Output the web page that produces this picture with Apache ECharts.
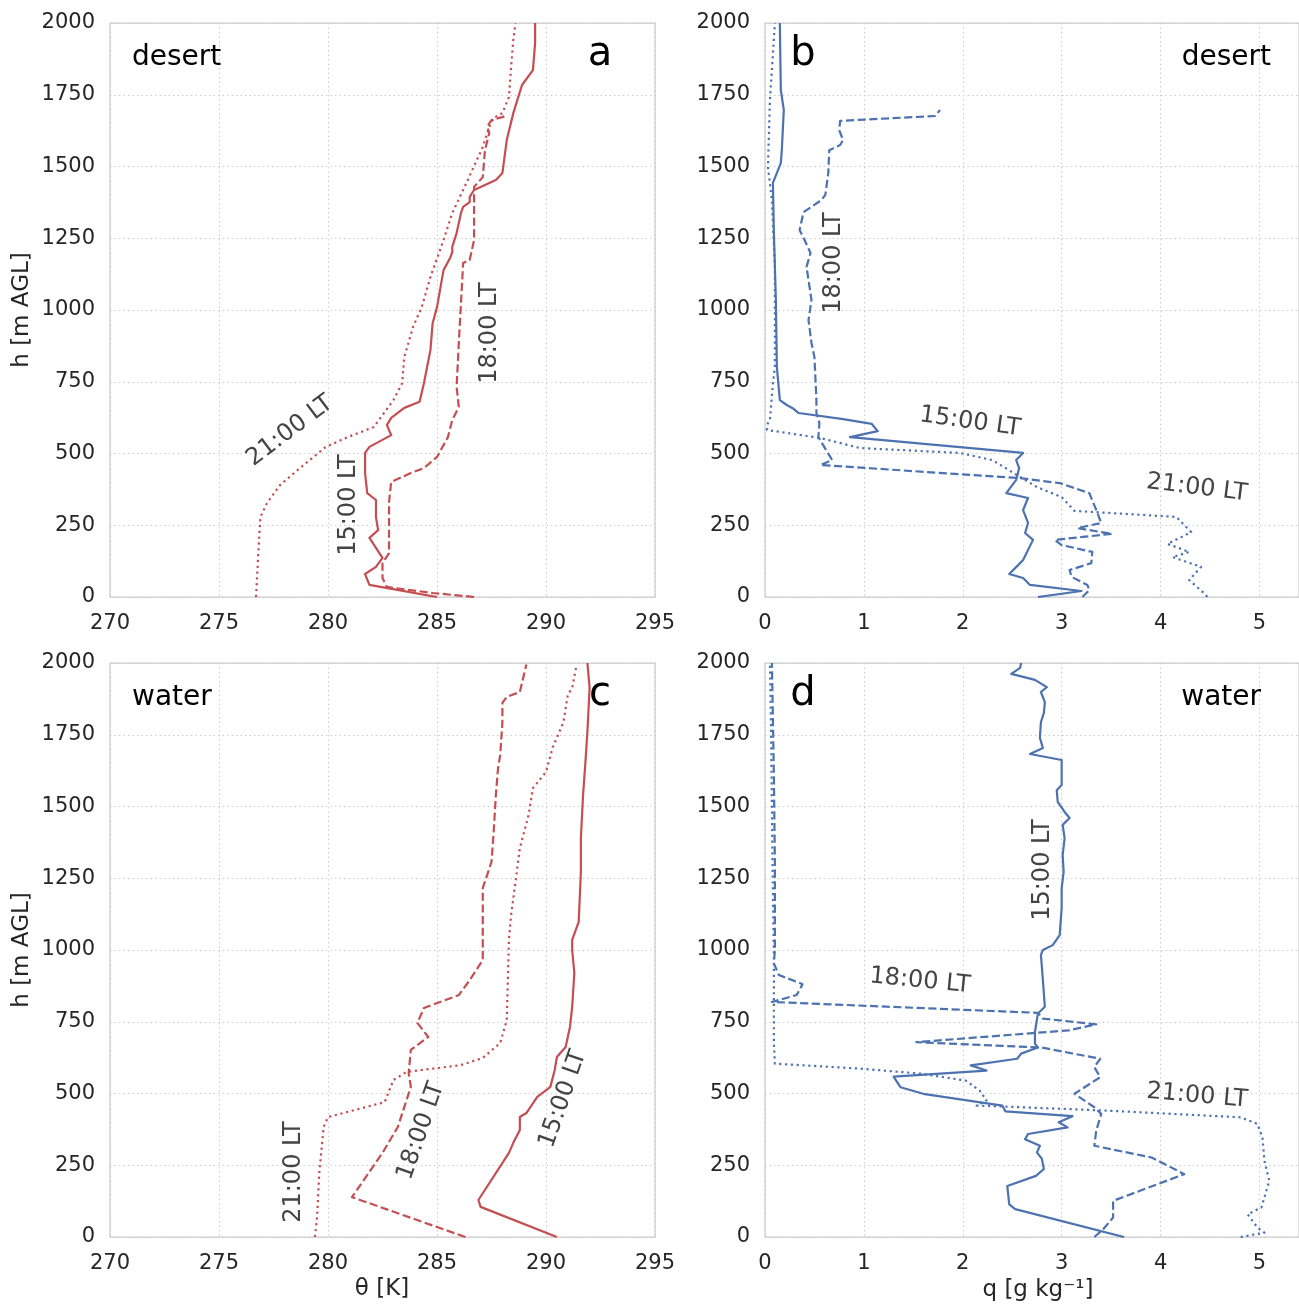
<!DOCTYPE html>
<html><head><meta charset="utf-8">
<script src="https://cdn.jsdelivr.net/npm/echarts@6/dist/echarts.min.js"></script>
<style>html,body{margin:0;padding:0;background:#fff}#c{width:1299px;height:1306px}</style>
</head><body><div id="c"></div>
<script>
// ---------- data: [value, height m AGL] ----------
const heightTicks = [0, 250, 500, 750, 1000, 1250, 1500, 1750, 2000];
const thetaTicks = [270, 275, 280, 285, 290, 295];
const qTicks = [0, 1, 2, 3, 4, 5];

// panel a: desert potential temperature (K)
const desertTheta15 = [[285.0,0],[281.9,42],[281.7,80],[282.2,105],[282.5,136],[281.9,206],[282.3,233],[282.2,279],[282.2,338],[281.8,362],[281.7,432],[281.7,502],[281.9,523],[282.9,564],[282.7,599],[282.9,624],[283.5,659],[284.2,680],[284.4,745],[284.7,861],[284.8,954],[285.0,1010],[285.3,1139],[285.6,1181],[285.7,1202],[285.7,1220],[285.9,1268],[286.1,1338],[286.2,1359],[286.5,1376],[286.5,1394],[286.7,1418],[287.7,1453],[288.0,1477],[288.2,1592],[288.5,1686],[288.9,1784],[289.4,1836],[289.5,1930],[289.5,2000]];
const desertTheta18 = [[286.7,0],[284.8,14],[282.7,35],[282.5,66],[282.5,118],[282.8,153],[282.8,314],[282.8,331],[282.9,401],[283.8,432],[284.4,449],[285.0,488],[285.5,557],[285.7,617],[286.0,662],[285.9,732],[286.0,885],[286.1,1024],[286.2,1164],[286.5,1174],[286.7,1244],[286.7,1394],[286.7,1429],[287.1,1463],[287.2,1557],[287.4,1617],[287.3,1638],[287.5,1662],[288.0,1672],[288.2,1678]];
const desertTheta21 = [[276.7,0],[276.8,150],[276.9,279],[277.2,327],[277.8,390],[278.6,442],[279.9,523],[280.9,557],[282.1,592],[283.0,686],[283.4,745],[283.5,836],[283.9,941],[284.3,1010],[284.7,1115],[285.3,1244],[285.7,1338],[286.2,1418],[287.1,1568],[287.4,1638],[287.6,1669],[288.0,1686],[288.3,1742],[288.4,1847],[288.5,1941],[288.6,2000]];

// panel b: desert specific humidity (g/kg)
const desertQ15 = [[2.76,0],[3.20,21],[2.68,42],[2.61,66],[2.47,80],[2.56,111],[2.61,129],[2.71,199],[2.63,223],[2.66,258],[2.61,303],[2.66,345],[2.44,362],[2.54,408],[2.57,449],[2.54,477],[2.61,502],[0.86,557],[1.14,578],[1.08,603],[0.79,620],[0.34,641],[0.28,658],[0.22,669],[0.15,686],[0.12,801],[0.11,1035],[0.09,1268],[0.08,1443],[0.16,1512],[0.17,1557],[0.19,1697],[0.16,1767],[0.15,2000]];
const desertQ18 = [[3.21,0],[3.28,24],[3.26,42],[3.10,70],[3.08,94],[3.30,118],[3.31,157],[3.00,181],[2.93,199],[3.51,220],[3.16,240],[3.40,258],[3.35,303],[3.28,362],[2.98,397],[2.58,414],[0.56,460],[0.68,477],[0.66,488],[0.54,557],[0.55,606],[0.52,641],[0.52,686],[0.50,836],[0.47,885],[0.44,965],[0.47,1035],[0.42,1150],[0.46,1199],[0.40,1244],[0.35,1279],[0.39,1341],[0.57,1383],[0.61,1401],[0.64,1477],[0.65,1557],[0.76,1575],[0.79,1592],[0.75,1627],[0.76,1659],[1.72,1676],[1.77,1697]];
const desertQ21 = [[4.47,0],[4.46,7],[4.29,59],[4.41,105],[4.12,139],[4.29,157],[4.07,185],[4.31,226],[4.16,279],[3.13,300],[3.00,348],[2.75,383],[2.58,418],[2.30,477],[1.97,502],[0.96,519],[0.56,554],[0.02,582],[0.03,606],[0.05,617],[0.08,745],[0.10,801],[0.10,1150],[0.07,1383],[0.03,1498],[0.05,1732],[0.10,2000]];

// panel c: water potential temperature (K)
const waterTheta15 = [[290.5,0],[287.0,105],[286.9,129],[288.3,293],[288.5,328],[288.8,373],[288.8,418],[289.1,432],[289.6,488],[290.2,523],[290.4,582],[290.5,627],[290.9,662],[291.1,732],[291.2,801],[291.3,920],[291.2,1000],[291.2,1035],[291.5,1098],[291.6,1272],[291.6,1390],[291.7,1540],[291.8,1645],[291.9,1760],[292.0,1913],[291.9,2000]];
const waterTheta18 = [[286.3,0],[281.1,139],[282.5,293],[283.2,383],[283.8,523],[283.7,571],[283.8,652],[284.6,697],[284.1,746],[284.4,798],[286.0,843],[286.5,895],[287.1,965],[287.1,1035],[287.1,1216],[287.3,1261],[287.5,1307],[287.6,1411],[287.7,1540],[287.8,1634],[287.9,1679],[288.0,1794],[288.0,1861],[288.2,1882],[288.8,1899],[289.1,1995]];
const waterTheta21 = [[279.4,0],[279.5,70],[279.6,223],[279.8,383],[280.0,418],[282.6,470],[283.0,547],[283.6,575],[286.1,599],[287.1,624],[287.9,676],[288.2,756],[288.3,1035],[288.4,1122],[288.6,1237],[288.8,1355],[289.2,1470],[289.4,1564],[290.0,1620],[290.3,1704],[290.8,1794],[291.0,1889],[291.2,1913],[291.4,1993]];

// panel d: water specific humidity (g/kg)
const waterQ15 = [[3.63,0],[2.53,97],[2.47,114],[2.45,178],[2.74,213],[2.82,237],[2.80,272],[2.75,295],[2.78,318],[2.63,341],[2.66,359],[3.06,382],[2.97,400],[3.11,421],[2.43,438],[2.40,458],[1.60,499],[1.37,522],[1.30,559],[2.24,580],[2.08,598],[2.55,621],[2.59,639],[2.76,660],[2.73,674],[2.73,715],[2.76,779],[2.83,802],[2.81,895],[2.80,940],[2.79,983],[2.81,1000],[2.91,1017],[2.98,1052],[3.00,1146],[3.00,1216],[3.02,1272],[3.01,1331],[3.03,1390],[3.01,1436],[3.08,1460],[3.03,1481],[2.96,1516],[2.95,1557],[3.00,1575],[3.00,1662],[2.68,1683],[2.81,1704],[2.78,1739],[2.79,1794],[2.82,1826],[2.83,1864],[2.79,1899],[2.85,1916],[2.73,1941],[2.49,1962],[2.58,1983],[2.59,2000]];
const waterQ18 = [[3.33,0],[3.42,27],[3.52,68],[3.52,126],[4.24,219],[3.91,277],[3.33,318],[3.35,371],[3.40,429],[3.33,452],[3.13,499],[3.39,557],[3.33,592],[3.39,621],[2.80,660],[1.53,679],[3.07,720],[3.35,741],[2.81,761],[2.76,781],[0.07,819],[0.32,843],[0.38,881],[0.14,913],[0.09,953],[0.10,1000],[0.10,1300],[0.09,1600],[0.08,1800],[0.07,2000]];
const waterQ21 = [[4.81,0],[5.05,15],[4.98,33],[4.88,79],[5.02,103],[5.10,196],[5.05,266],[5.03,347],[4.98,394],[4.81,417],[3.42,441],[2.14,458],[2.24,476],[2.17,510],[2.03,545],[1.58,569],[0.99,586],[0.10,604],[0.09,674],[0.09,814],[0.09,965],[0.08,1200],[0.07,1500],[0.06,1800],[0.05,2000]];

// ---------- styling ----------
const FONT = 'DejaVu Sans';
const RED = '#c44e52', BLUE = '#4c72b0';
const TICK_COLOR = '#262626', GRID_COLOR = '#cccccc';
const LW = 2.2;
const STYLE15 = 'solid', STYLE18 = [3.7 * LW, 1.6 * LW], STYLE21 = [1 * LW, 1.65 * LW];

const grids = [
  {left: 110, top: 23, width: 545, height: 574},
  {left: 765, top: 23, width: 534, height: 574},
  {left: 110, top: 663, width: 545, height: 574},
  {left: 765, top: 663, width: 534, height: 574}
].map(g => Object.assign({show: true, borderColor: GRID_COLOR, borderWidth: 1.25, backgroundColor: 'transparent', containLabel: false}, g));

function xAx(i, ticks, max) {
  return {
    type: 'value', gridIndex: i, min: ticks[0], max: max, interval: ticks[1] - ticks[0],
    axisLine: {show: false}, axisTick: {show: false},
    axisLabel: {fontFamily: FONT, fontSize: 21, color: TICK_COLOR, margin: 16, showMaxLabel: max === ticks[ticks.length-1],
      formatter: v => ticks.indexOf(v) >= 0 ? String(v) : ''},
    splitLine: {show: true, lineStyle: {color: GRID_COLOR, type: [1.5, 3], width: 1.1}}
  };
}
function yAx(i) {
  return {
    type: 'value', gridIndex: i, min: heightTicks[0], max: heightTicks[heightTicks.length-1], interval: heightTicks[1] - heightTicks[0],
    axisLine: {show: false}, axisTick: {show: false},
    axisLabel: {fontFamily: FONT, fontSize: 21, color: TICK_COLOR, margin: 15, padding: [5, 0, 0, 0], formatter: v => String(v)},
    splitLine: {show: true, lineStyle: {color: GRID_COLOR, type: [1.5, 3], width: 1.1}}
  };
}

function line(i, data, color, type) {
  return {type: 'line', xAxisIndex: i, yAxisIndex: i, data: data, showSymbol: false, symbol: 'none',
    silent: true, animation: false, lineStyle: {color: color, width: LW, type: type, join: 'round'}, z: 3};
}

const series = [
  line(0, desertTheta15, RED, STYLE15), line(0, desertTheta18, RED, STYLE18), line(0, desertTheta21, RED, STYLE21),
  line(1, desertQ15, BLUE, STYLE15), line(1, desertQ18, BLUE, STYLE18), line(1, desertQ21, BLUE, STYLE21),
  line(2, waterTheta15, RED, STYLE15), line(2, waterTheta18, RED, STYLE18), line(2, waterTheta21, RED, STYLE21),
  line(3, waterQ15, BLUE, STYLE15), line(3, waterQ18, BLUE, STYLE18), line(3, waterQ21, BLUE, STYLE21)
];

// ---------- text annotations ----------
const deg = Math.PI / 180;
const texts = [
  // panel labels
  {t: 'desert', x: 132, y: 58, a: 'left', s: 28, c: '#000'},
  {t: 'a', x: 600, y: 55, a: 'center', s: 40, c: '#000'},
  {t: 'b', x: 803, y: 55, a: 'center', s: 40, c: '#000'},
  {t: 'desert', x: 1271, y: 58, a: 'right', s: 28, c: '#000'},
  {t: 'water', x: 132, y: 698, a: 'left', s: 28, c: '#000'},
  {t: 'c', x: 600, y: 695, a: 'center', s: 40, c: '#000'},
  {t: 'd', x: 803, y: 695, a: 'center', s: 40, c: '#000'},
  {t: 'water', x: 1261, y: 698, a: 'right', s: 28, c: '#000'},
  // line annotations
  {t: '21:00 LT', x: 290, y: 431, a: 'center', s: 24, c: '#444', r: 37},
  {t: '15:00 LT', x: 349, y: 505, a: 'center', s: 24, c: '#444', r: 90},
  {t: '18:00 LT', x: 490, y: 333, a: 'center', s: 24, c: '#444', r: 90},
  {t: '18:00 LT', x: 834, y: 263, a: 'center', s: 24, c: '#444', r: 90},
  {t: '15:00 LT', x: 970, y: 422, a: 'center', s: 24, c: '#444', r: -8},
  {t: '21:00 LT', x: 1197, y: 488, a: 'center', s: 24, c: '#444', r: -7},
  {t: '21:00 LT', x: 294, y: 1172, a: 'center', s: 24, c: '#444', r: 90},
  {t: '18:00 LT', x: 421, y: 1131, a: 'center', s: 24, c: '#444', r: 71},
  {t: '15:00 LT', x: 563, y: 1099, a: 'center', s: 24, c: '#444', r: 71},
  {t: '15:00 LT', x: 1043, y: 870, a: 'center', s: 24, c: '#444', r: 90},
  {t: '18:00 LT', x: 920, y: 981, a: 'center', s: 24, c: '#444', r: -5.5},
  {t: '21:00 LT', x: 1197, y: 1096, a: 'center', s: 24, c: '#444', r: -5},
  // axis titles
  {t: 'h [m AGL]', x: 22, y: 310, a: 'center', s: 23, c: TICK_COLOR, r: 90},
  {t: 'h [m AGL]', x: 22, y: 950, a: 'center', s: 23, c: TICK_COLOR, r: 90},
  {t: 'θ [K]', x: 382, y: 1289, a: 'center', s: 23, c: TICK_COLOR},
  {t: 'q [g kg⁻¹]', x: 1038, y: 1290, a: 'center', s: 23, c: TICK_COLOR}
];
const graphic = texts.map(o => ({
  type: 'text', x: o.x, y: o.y, rotation: (o.r || 0) * deg, z: 10, silent: true,
  style: {text: o.t, font: o.s + 'px "' + FONT + '"', fill: o.c, align: o.a, verticalAlign: 'middle'}
}));

const chart = echarts.init(document.getElementById('c'), null, {renderer: 'canvas'});
chart.setOption({
  animation: false,
  backgroundColor: '#ffffff',
  grid: grids,
  xAxis: [xAx(0, thetaTicks, 295), xAx(1, qTicks, 5.4), xAx(2, thetaTicks, 295), xAx(3, qTicks, 5.4)],
  yAxis: [yAx(0), yAx(1), yAx(2), yAx(3)],
  series: series,
  graphic: graphic
});
</script></body></html>
